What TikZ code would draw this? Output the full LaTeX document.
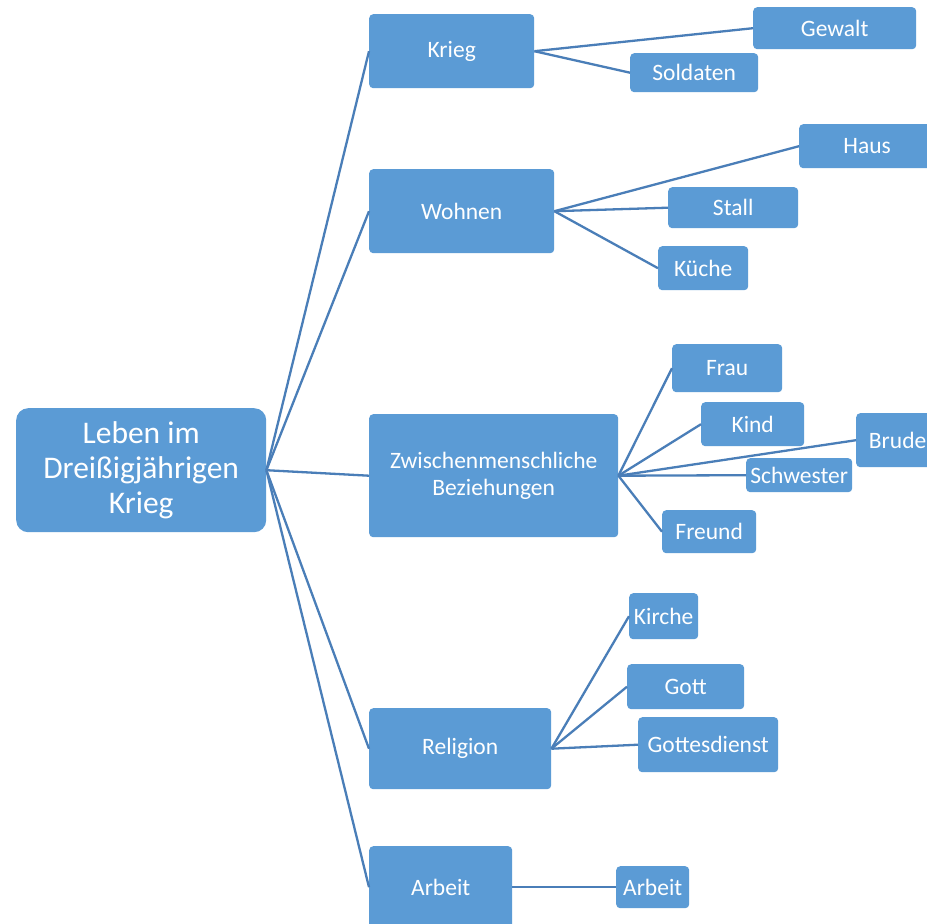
\documentclass[tikz,border=0pt]{standalone}
\usepackage{fontspec}
\setmainfont{Carlito}
\definecolor{boxblue}{HTML}{5B9BD5}
\definecolor{lineblue}{HTML}{4A7EB8}

\begin{document}
\begin{tikzpicture}[x=1pt,y=-1pt,
  box/.style={fill=boxblue, text=white, rounded corners=4pt, inner sep=0pt, anchor=north west, align=center, font=\fontsize{23.5}{27}\selectfont},
  link/.style={lineblue, line width=2.3pt}]

\clip (0,0) rectangle (927,924);
\fill[white] (0,0) rectangle (927,924);

% root
\node[box, rounded corners=12pt, minimum width=250pt, minimum height=124pt, font=\fontsize{31.5}{35}\selectfont] (leben) at (16,408) {Leben im\\Dreißigjährigen\\Krieg};

% first level
\node[box, minimum width=165pt, minimum height=74pt] (krieg) at (369,14) {Krieg};
\node[box, minimum width=185pt, minimum height=84pt] (wohnen) at (369,169) {Wohnen};
\node[box, minimum width=249pt, minimum height=123pt] (zwischen) at (369,414) {Zwischenmenschliche\\Beziehungen};
\node[box, minimum width=182pt, minimum height=81pt] (religion) at (369,708) {Religion};
\node[box, minimum width=143pt, minimum height=82pt] (arbeit) at (369,846) {Arbeit};

% second level
\node[box, minimum width=163pt, minimum height=42pt] (gewalt) at (753,7) {Gewalt};
\node[box, minimum width=128pt, minimum height=39pt] (soldaten) at (630,53) {Soldaten};

\node[box, minimum width=136pt, minimum height=44pt] (haus) at (799,124) {Haus};
\node[box, minimum width=130pt, minimum height=41pt] (stall) at (668,187) {Stall};
\node[box, minimum width=90pt, minimum height=44pt] (kueche) at (658,246) {Küche};

\node[box, minimum width=110pt, minimum height=48pt] (frau) at (672,344) {Frau};
\node[box, minimum width=103pt, minimum height=44pt] (kind) at (701,402) {Kind};
\node[box, minimum width=91pt, minimum height=54pt] (bruder) at (856,413) {Bruder};
\node[box, minimum width=106pt, minimum height=34pt] (schwester) at (746,458) {Schwester};
\node[box, minimum width=94pt, minimum height=43pt] (freund) at (662,510) {Freund};

\node[box, minimum width=69pt, minimum height=46pt] (kirche) at (629,593) {Kirche};
\node[box, minimum width=117pt, minimum height=45pt] (gott) at (627,664) {Gott};
\node[box, minimum width=140pt, minimum height=55pt] (dienst) at (638,717) {Gottesdienst};

\node[box, minimum width=73pt, minimum height=42pt] (arbeit2) at (616,866) {Arbeit};

% connectors
\foreach \n in {krieg,wohnen,zwischen,religion,arbeit}
  \draw[link] (leben.east) -- (\n.west);

\draw[link] (krieg.east) -- (gewalt.west);
\draw[link] (krieg.east) -- (soldaten.west);

\foreach \n in {haus,stall,kueche}
  \draw[link] (wohnen.east) -- (\n.west);

\foreach \n in {frau,kind,bruder,schwester,freund}
  \draw[link] (zwischen.east) -- (\n.west);

\foreach \n in {kirche,gott,dienst}
  \draw[link] (religion.east) -- (\n.west);

\draw[link] (arbeit.east) -- (arbeit2.west);

\end{tikzpicture}
\end{document}
